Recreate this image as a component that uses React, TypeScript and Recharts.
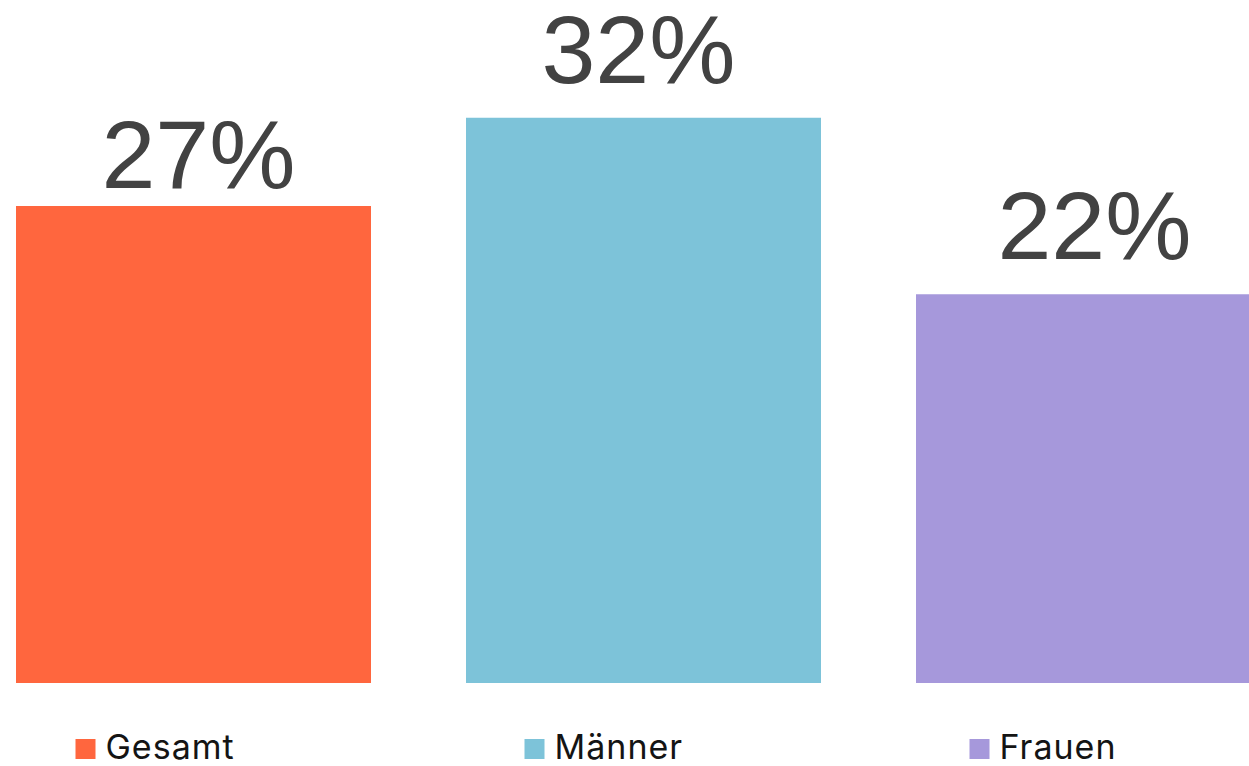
import React from 'react';
import { BarChart, Bar, XAxis, YAxis, Cell, LabelList, Legend } from 'recharts';

const categories = ['Gesamt', 'Männer', 'Frauen'];
const values = [27, 32, 22];
const colors = ['#FF663E', '#7DC3D9', '#A698DB'];
// label styling per bar (gap above bar, horizontal nudge)
const labelGaps = [18, 35, 35];
const labelDx = [5, -5, 1];
// legend item left positions on page
const legendLeft = [75, 524, 969];

const data = categories.map((c, i) => ({ name: c, value: values[i] }));

const OFFSET_X = -32.5;
const LEGEND_H = 46;

const renderLabel = (props: any) => {
  const { x, y, width, index, value } = props;
  return (
    <text
      x={x + width / 2 + labelDx[index]}
      y={y - labelGaps[index]}
      textAnchor="middle"
      fontSize={97}
      fontFamily="'Liberation Sans', Arial, sans-serif"
      fill="#424242"
    >
      {`${value}%`}
    </text>
  );
};

const renderLegend = () => (
  <svg width={1350} height={LEGEND_H} style={{ display: 'block' }}>
    {categories.map((c, i) => {
      const lx = legendLeft[i] - OFFSET_X;
      return (
        <g key={c}>
          <rect x={lx} y={19} width={20} height={20} fill={colors[i]} />
          <text
            x={lx + 30}
            y={39}
            fontSize={34}
            letterSpacing={1}
            fontFamily="Inter, sans-serif"
            fill="#141414"
          >
            {c}
          </text>
        </g>
      );
    })}
  </svg>
);

export default function App() {
  return (
    <div style={{ position: 'absolute', left: 0, top: 0, width: 1249, height: 766, overflow: 'hidden', background: '#fff' }}>
      <div style={{ position: 'absolute', left: OFFSET_X, top: 0 }}>
        <BarChart
          width={1350}
          height={766}
          data={data}
          margin={{ top: 47, right: 0, bottom: 83 - LEGEND_H, left: 0 }}
        >
          <XAxis dataKey="name" hide />
          <YAxis hide domain={[0, 36]} />
          <Legend
            content={renderLegend}
            wrapperStyle={{ position: 'absolute', left: 0, top: 720, width: 1350, height: LEGEND_H }}
          />
          <Bar dataKey="value" barSize={355} isAnimationActive={false}>
            {data.map((d, i) => (
              <Cell key={d.name} fill={colors[i]} />
            ))}
            <LabelList dataKey="value" content={renderLabel} />
          </Bar>
        </BarChart>
      </div>
    </div>
  );
}
